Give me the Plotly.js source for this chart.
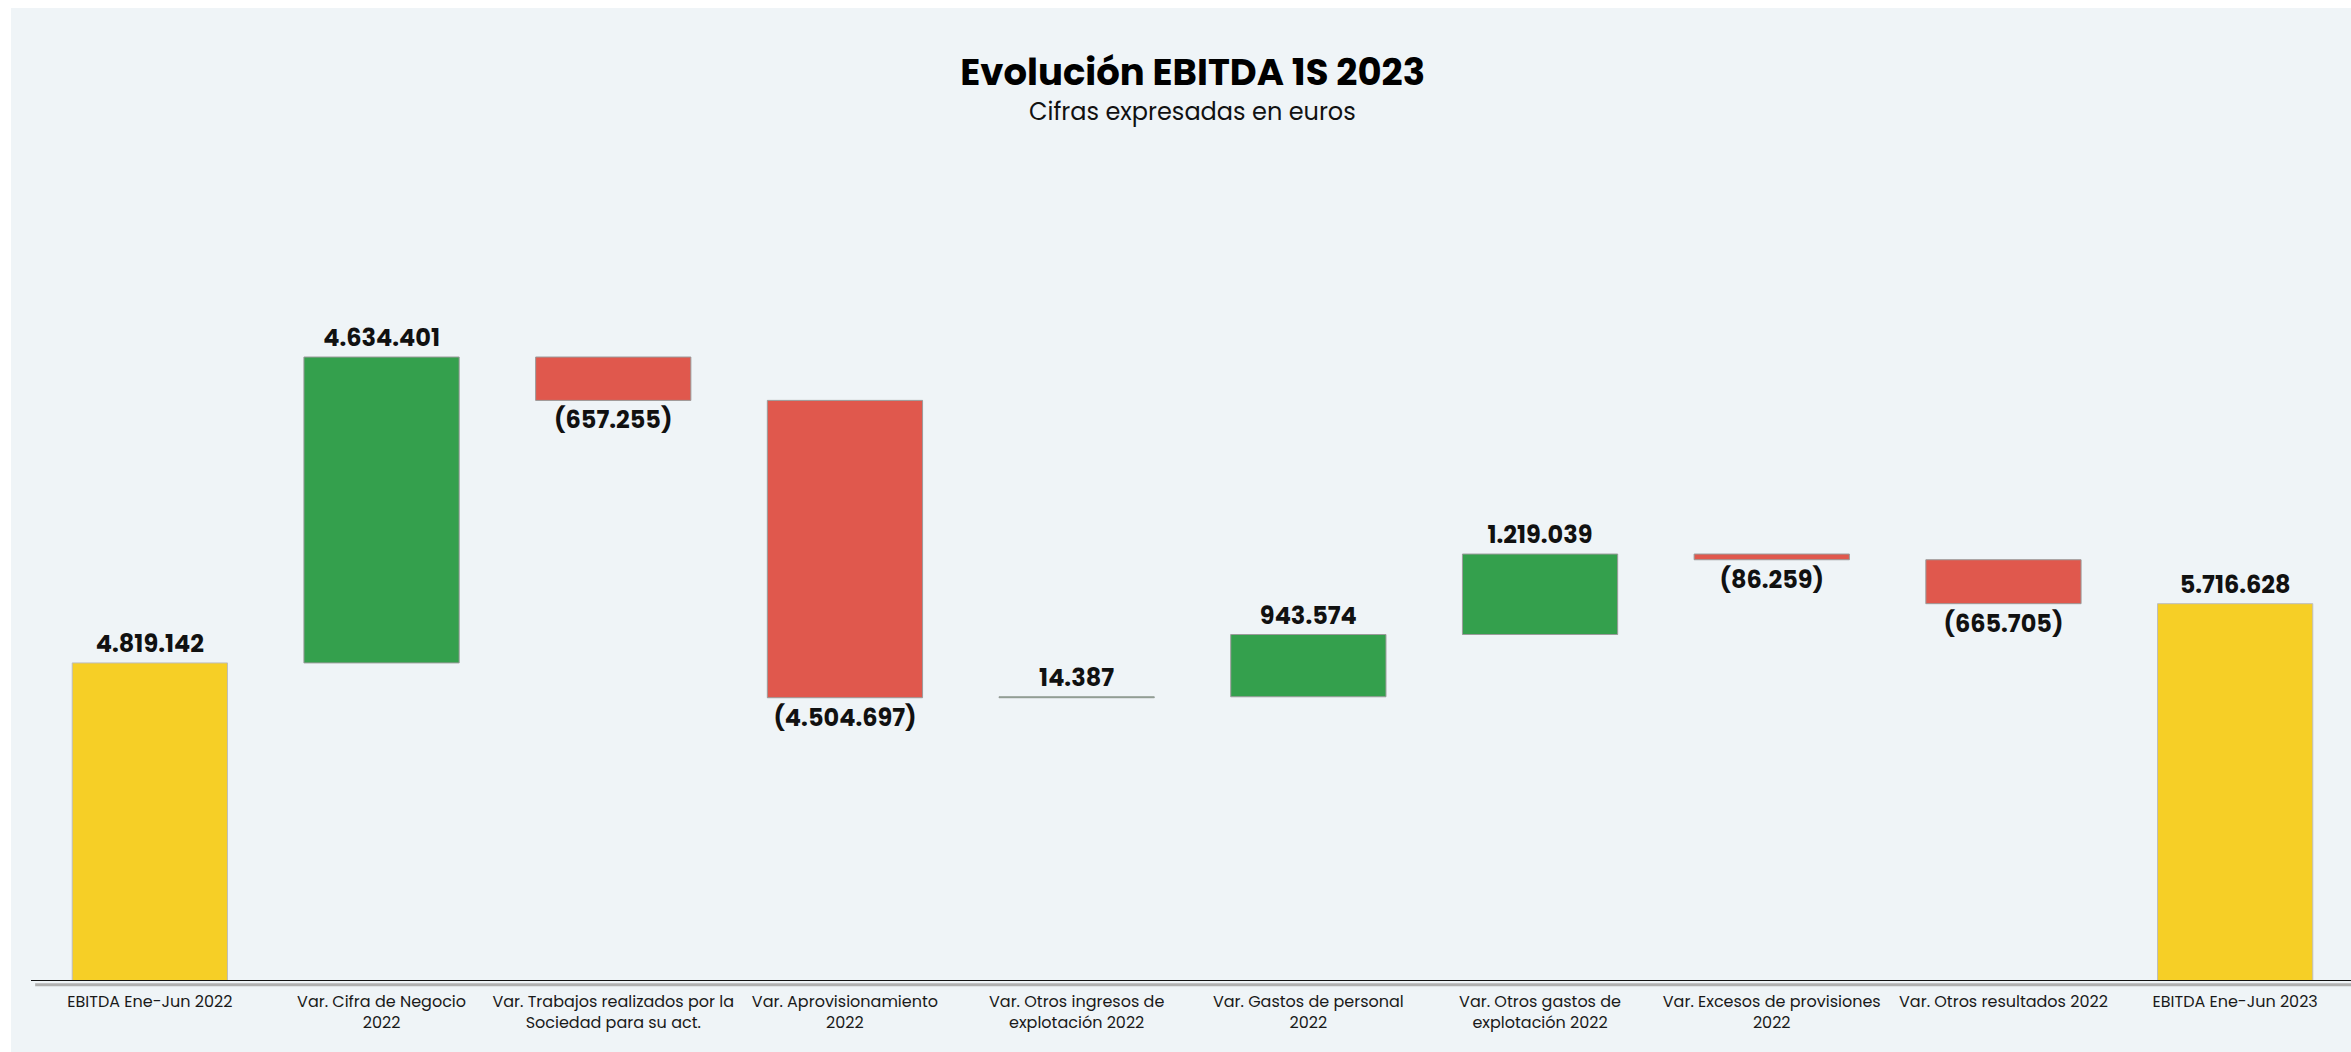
<!DOCTYPE html>
<html>
<head>
<meta charset="utf-8">
<script src="https://cdn.plot.ly/plotly-3.0.1.min.js"></script>
<style>
  html, body { margin: 0; padding: 0; background: #ffffff; width: 2351px; height: 1052px; overflow: hidden; }
  #chart { position: absolute; left: 11px; top: 8px; width: 2340px; height: 1044px; }
</style>
</head>
<body>
<div id="chart"></div>
<script>
// ---- data ----
const categories = [
  "EBITDA Ene-Jun 2022",
  "Var. Cifra de Negocio<br>2022",
  "Var. Trabajos realizados por la<br>Sociedad para su act.",
  "Var. Aprovisionamiento<br>2022",
  "Var. Otros ingresos de<br>explotación 2022",
  "Var. Gastos de personal<br>2022",
  "Var. Otros gastos de<br>explotación 2022",
  "Var. Excesos de provisiones<br>2022",
  "Var. Otros resultados 2022",
  "EBITDA Ene-Jun 2023"
];
const values = [4819142, 4634401, -657255, -4504697, 14387, 943574, 1219039, -86259, -665705, 5716628];
const measures = ["absolute", "relative", "relative", "relative", "relative", "relative", "relative", "relative", "relative", "absolute"];

function fmt(v) {
  const s = String(Math.abs(v)).replace(/\B(?=(\d{3})+(?!\d))/g, ".");
  return v < 0 ? "(" + s + ")" : s;
}
const labels = values.map(fmt);

const FONT = "Poppins, Inter, 'Noto Sans', sans-serif";

const trace = {
  type: "waterfall",
  orientation: "v",
  x: categories,
  y: values,
  measure: measures,
  text: labels,
  textposition: "outside",
  textfont: { family: FONT, size: 24, color: "#111111", weight: 700 },
  cliponaxis: false,
  hoverinfo: "skip",
  connector: { visible: false },
  increasing: { marker: { color: "#34A04D", line: { color: "#9a9a9a", width: 1 } } },
  decreasing: { marker: { color: "#E0584D", line: { color: "#9a9a9a", width: 1 } } },
  totals: { marker: { color: "#F6CF26", line: { color: "#bdbdbd", width: 1 } } }
};

const layout = {
  width: 2340,
  height: 1044,
  margin: { l: 23, r: 0, t: 142, b: 71 },
  paper_bgcolor: "#EFF4F7",
  plot_bgcolor: "#EFF4F7",
  showlegend: false,
  waterfallgap: 0.33,
  font: { family: FONT, color: "#111111" },
  title: {
    text: "<b>Evolución EBITDA 1S 2023</b>",
    font: { family: FONT, size: 37, color: "#000000" },
    x: 0.505, xref: "container", xanchor: "center",
    y: 0.939, yref: "container", yanchor: "middle"
  },
  annotations: [{
    text: "Cifras expresadas en euros",
    xref: "paper", yref: "paper",
    x: 0.5, y: 1.046, xanchor: "center", yanchor: "middle",
    showarrow: false,
    font: { family: FONT, size: 24, color: "#111111" }
  }],
  xaxis: {
    type: "category",
    showline: false,
    showgrid: false,
    zeroline: false,
    ticks: "outside",
    ticklen: 6,
    tickcolor: "rgba(0,0,0,0)",
    tickfont: { family: FONT, size: 16, color: "#1a1a1a" },
    tickangle: 0
  },
  yaxis: {
    range: [0, 12590000],
    visible: false,
    showgrid: false,
    zeroline: false,
    fixedrange: true
  },
  shapes: [
    { type: "line", xref: "paper", yref: "paper", x0: 0.0005, x1: 1, y0: -0.0045, y1: -0.0045,
      line: { color: "#b0b0b0", width: 3 }, layer: "above" },
    { type: "line", xref: "paper", yref: "y", x0: -0.0013, x1: 1, y0: 0, y1: 0,
      line: { color: "#111111", width: 2 }, layer: "above" }
  ]
};

Plotly.newPlot("chart", [trace], layout, { displayModeBar: false, staticPlot: true });
</script>
</body>
</html>
